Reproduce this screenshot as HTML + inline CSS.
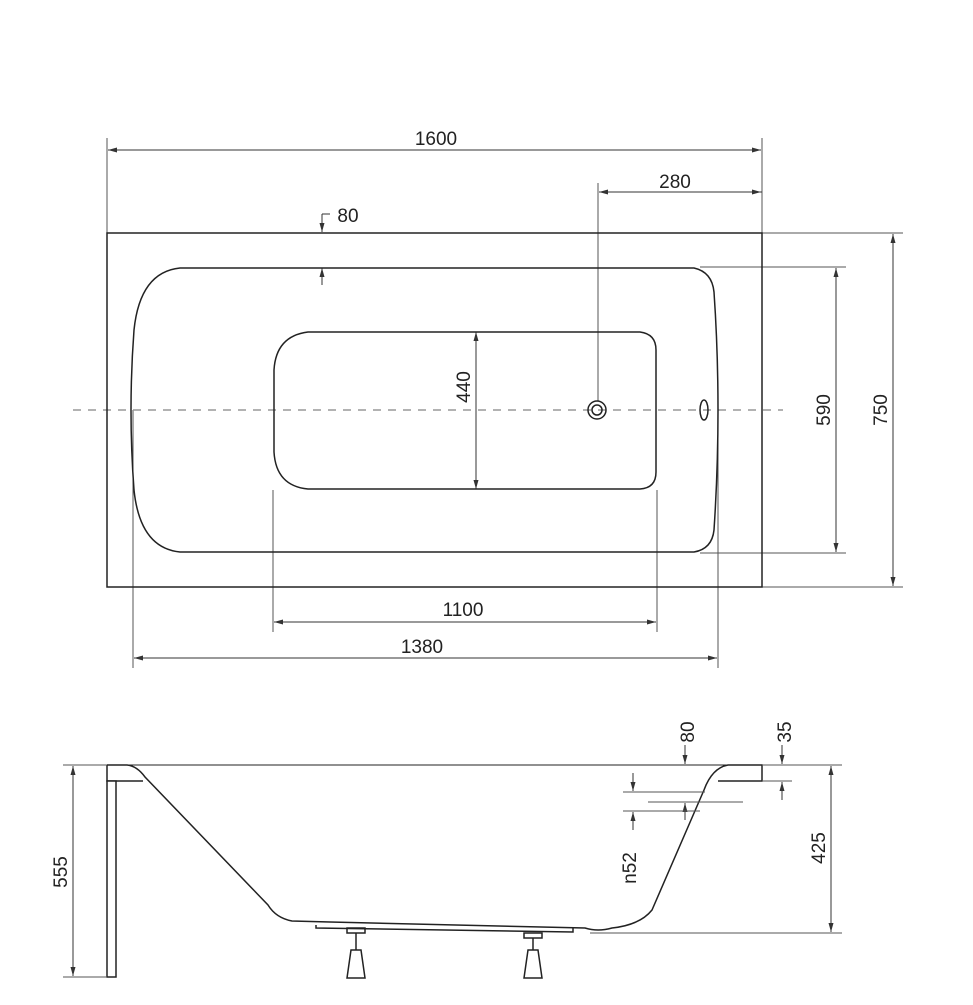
<!DOCTYPE html>
<html><head><style>html,body{margin:0;padding:0;background:#fff}</style></head>
<body>
<svg width="973" height="1000" viewBox="0 0 973 1000" xmlns="http://www.w3.org/2000/svg" font-family="Liberation Sans, sans-serif">
<defs>
<marker id="a" markerWidth="10" markerHeight="8" refX="9" refY="4" orient="auto" markerUnits="userSpaceOnUse"><path d="M0,1.5 L9,4 L0,6.5 z" fill="#333"/></marker>
</defs>
<g fill="none" stroke="#555" stroke-width="1">
<!-- extension lines top -->
<line x1="107" y1="138" x2="107" y2="233"/>
<line x1="762" y1="138" x2="762" y2="233"/>
<line x1="598" y1="183" x2="598" y2="401"/>
<line x1="762" y1="233" x2="903" y2="233"/>
<line x1="762" y1="587" x2="903" y2="587"/>
<line x1="700" y1="267" x2="846" y2="267"/>
<line x1="700" y1="553" x2="846" y2="553"/>
<line x1="273" y1="490" x2="273" y2="632"/>
<line x1="657" y1="490" x2="657" y2="632"/>
<line x1="133" y1="410" x2="133" y2="668"/>
<line x1="718" y1="410" x2="718" y2="668"/>
</g>
<g stroke="#333" stroke-width="1" marker-end="url(#a)" marker-start="url(#a)" fill="none">
<line x1="108" y1="150" x2="761" y2="150" style="marker-start:none"/>
<line x1="761" y1="150" x2="108" y2="150" style="marker-start:none"/>
<line x1="762" y1="192" x2="599" y2="192" style="marker-start:none"/>
<line x1="599" y1="192" x2="761" y2="192" style="marker-start:none"/>
<line x1="476" y1="410" x2="476" y2="332" style="marker-start:none"/>
<line x1="476" y1="410" x2="476" y2="489" style="marker-start:none"/>
<line x1="836" y1="410" x2="836" y2="268" style="marker-start:none"/>
<line x1="836" y1="410" x2="836" y2="552" style="marker-start:none"/>
<line x1="893" y1="410" x2="893" y2="234" style="marker-start:none"/>
<line x1="893" y1="410" x2="893" y2="586" style="marker-start:none"/>
<line x1="465" y1="622" x2="274" y2="622" style="marker-start:none"/>
<line x1="465" y1="622" x2="656" y2="622" style="marker-start:none"/>
<line x1="425" y1="658" x2="134" y2="658" style="marker-start:none"/>
<line x1="425" y1="658" x2="717" y2="658" style="marker-start:none"/>
<line x1="322" y1="214" x2="322" y2="232" style="marker-start:none"/>
<line x1="322" y1="285" x2="322" y2="268" style="marker-start:none"/>
<line x1="73" y1="870" x2="73" y2="766" style="marker-start:none"/>
<line x1="73" y1="870" x2="73" y2="976" style="marker-start:none"/>
<line x1="831" y1="850" x2="831" y2="766" style="marker-start:none"/>
<line x1="831" y1="850" x2="831" y2="932" style="marker-start:none"/>
<line x1="685" y1="745" x2="685" y2="764" style="marker-start:none"/>
<line x1="782" y1="745" x2="782" y2="764" style="marker-start:none"/>
<line x1="782" y1="800" x2="782" y2="782" style="marker-start:none"/>
<line x1="633" y1="773" x2="633" y2="791" style="marker-start:none"/>
<line x1="633" y1="830" x2="633" y2="812" style="marker-start:none"/>
<line x1="685" y1="820" x2="685" y2="803" style="marker-start:none"/>
</g>
<line x1="322" y1="214" x2="330" y2="214" stroke="#333"/>
<!-- centerline -->
<line x1="73" y1="410" x2="783" y2="410" stroke="#999" stroke-width="1.5" stroke-dasharray="8,7"/>
<!-- top view -->
<g fill="none" stroke="#222" stroke-width="1.5">
<rect x="107" y="233" width="655" height="354"/>
<path d="M180,268 L694,268 Q712,272 714,292 Q718,350 718,410 Q718,470 714,530 Q712,549 694,552 L180,552 Q140,548 134,490 Q131,450 131,410 Q131,370 134,330 Q140,272 180,268 Z"/>
<path d="M308,332 L640,332 Q656,334 656,350 L656,472 Q656,488 640,489 L308,489 Q276,486 274,452 L274,370 Q276,336 308,332 Z"/>
<circle cx="597" cy="410" r="9"/>
<circle cx="597" cy="410" r="5"/>
<ellipse cx="704" cy="410" rx="4" ry="10"/>
</g>
<!-- side view -->
<g fill="none" stroke="#222" stroke-width="1.5">
<line x1="127" y1="765" x2="730" y2="765" stroke-width="1"/>
<path d="M107,765 L127,765 Q137,766 145,777 L268,905 Q276,918 292,921 L330,922 L585,928 Q598,932 612,928 Q640,925 652,910 L704,790 Q712,768 728,765 L762,765 L762,781 L718,781"/>
<path d="M107,765 L107,781 L143,781"/>
<rect x="107" y="781" width="9" height="196" fill="#fff"/>
<path d="M316,925 L316,928 L573,932 L573,928"/>
<rect x="347" y="928" width="18" height="5"/><line x1="356" y1="933" x2="356" y2="950"/><path d="M351,950 L361,950 L365,978 L347,978 Z"/>
<rect x="524" y="933" width="18" height="5"/><line x1="533" y1="938" x2="533" y2="950"/><path d="M528,950 L538,950 L542,978 L524,978 Z"/>
</g>
<g stroke="#555" stroke-width="1">
<line x1="63" y1="765" x2="107" y2="765"/>
<line x1="63" y1="977" x2="107" y2="977"/>
<line x1="762" y1="765" x2="842" y2="765"/>
<line x1="762" y1="781" x2="792" y2="781"/>
<line x1="590" y1="933" x2="842" y2="933"/>
<line x1="623" y1="792" x2="705" y2="792"/>
<line x1="623" y1="811" x2="700" y2="811"/>
<line x1="648" y1="802" x2="743" y2="802"/>
</g>
<g fill="#222" font-size="19">
<text x="436" y="145" text-anchor="middle">1600</text>
<text x="675" y="188" text-anchor="middle">280</text>
<text x="348" y="222" text-anchor="middle">80</text>
<text x="463" y="616" text-anchor="middle">1100</text>
<text x="422" y="653" text-anchor="middle">1380</text>
<text transform="translate(470,387) rotate(-90)" text-anchor="middle">440</text>
<text transform="translate(830,410) rotate(-90)" text-anchor="middle">590</text>
<text transform="translate(887,410) rotate(-90)" text-anchor="middle">750</text>
<text transform="translate(67,872) rotate(-90)" text-anchor="middle">555</text>
<text transform="translate(825,848) rotate(-90)" text-anchor="middle">425</text>
<text transform="translate(694,732) rotate(-90)" text-anchor="middle">80</text>
<text transform="translate(791,732) rotate(-90)" text-anchor="middle">35</text>
<text transform="translate(636,868) rotate(-90)" text-anchor="middle">n52</text>
</g>
</svg>
</body></html>
